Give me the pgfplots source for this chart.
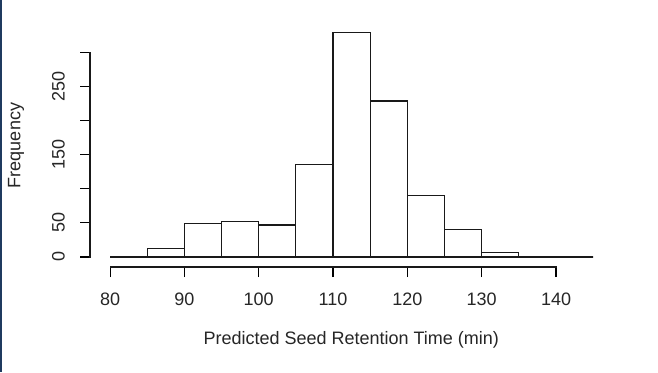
\documentclass[border=0pt]{standalone}
\usepackage{pgfplots}
\pgfplotsset{compat=1.18}
\usepackage{fontspec}
\setmainfont{Liberation Sans}
\definecolor{navy}{HTML}{1F3A5F}
\pgfplotstableread{
x y
80 1
85 13
90 49
95 52
100 47
105 136
110 329
115 229
120 90
125 40
130 6
135 0
140 0
145 0
}\histdata
\begin{document}
\begin{tikzpicture}[x=1pt,y=1pt]
\path[fill=white] (0,0) rectangle (658,372);
\fill[navy] (0,0) rectangle (1.8,372);
\begin{axis}[
  at={(90pt,105pt)}, anchor=south west,
  scale only axis, width=522.5pt, height=243pt,
  xmin=77.3, xmax=147.6, ymin=-14.7, ymax=342,
  axis line style={draw=none},
  xtick pos=bottom, ytick pos=left,
  xtick={80,90,...,140},
  ytick={0,50,...,300},
  yticklabels={0,50,,150,,250,},
  tick align=outside,
  major tick length=10pt,
  tick style={black, line width=1.1pt},
  /pgf/number format/assume math mode=true,
  font=\fontsize{18}{21}\selectfont,
  xticklabel style={anchor=north, inner sep=0pt, text=black!85},
  yticklabel style={rotate=90, anchor=south, inner sep=0pt, text=black!85},
  xticklabel shift=16pt,
  yticklabel shift=15pt,
  xlabel={Predicted Seed Retention Time (min)},
  ylabel={Frequency},
  xlabel style={at={(axis description cs:0.5,-0.30)}, anchor=center, text=black!85},
  ylabel style={at={(axis description cs:-0.1416,0.5)}, anchor=center, rotate=0, text=black!85},
  clip=false,
]
\addplot[ybar interval, fill=white, draw=black!90, line width=1.1pt] table[x=x,y=y] {\histdata};
\addplot[black!90, line width=1.1pt, line cap=rect] coordinates {(80,-14.7) (140,-14.7)};
\addplot[black!90, line width=1.1pt, line cap=rect] coordinates {(77.3,0) (77.3,300)};
\end{axis}
\end{tikzpicture}
\end{document}
